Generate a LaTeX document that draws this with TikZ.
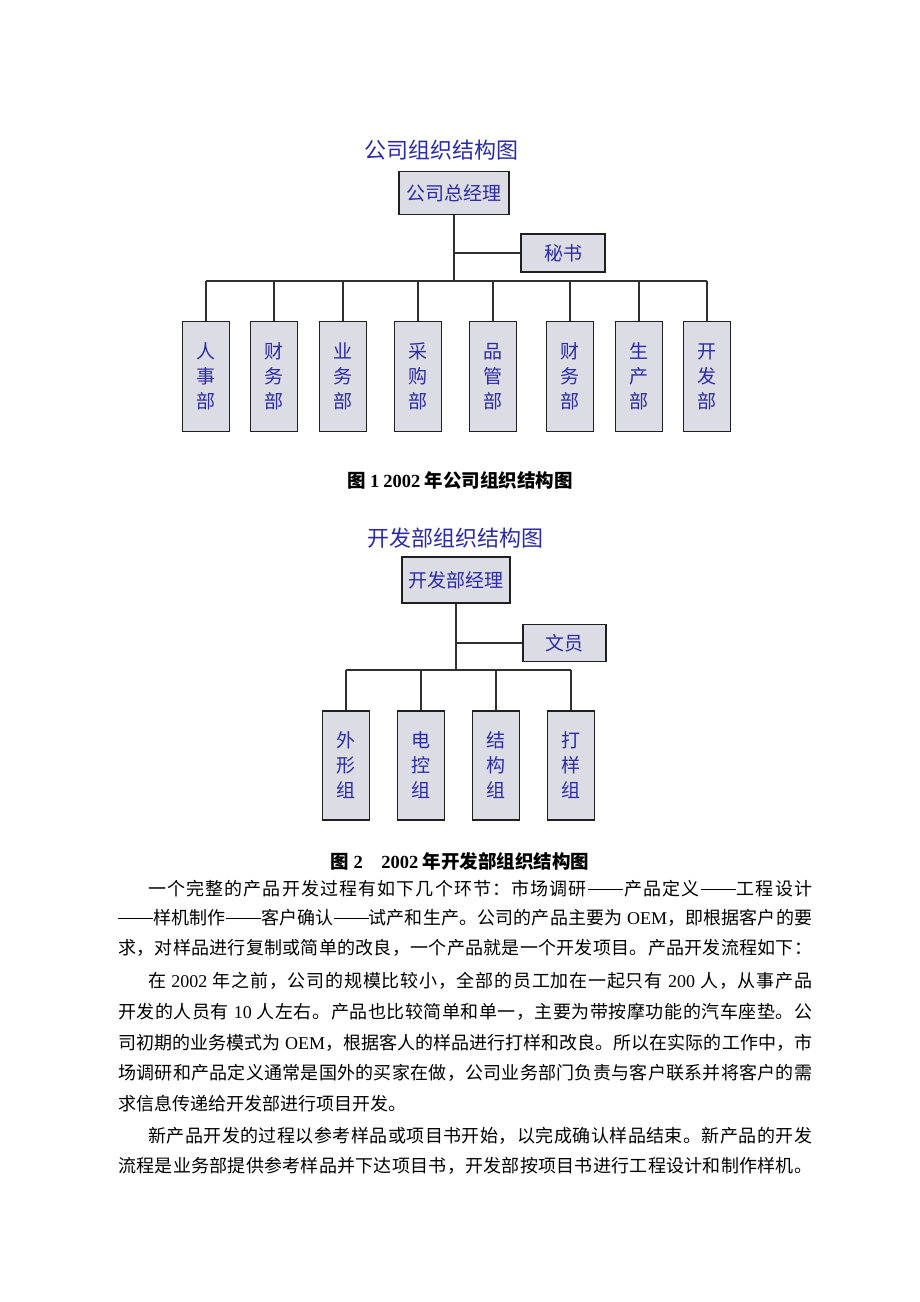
\documentclass[tikz,border=0pt]{standalone}
\usepackage{fontspec}
\newfontfamily\cjk{Noto Sans CJK SC}
\newfontfamily\latf{Liberation Serif}
\definecolor{diagblue}{HTML}{2B2BA8}
\definecolor{boxfill}{HTML}{DCDCE4}
\definecolor{boxline}{HTML}{202020}
\definecolor{connline}{HTML}{303030}
\newcommand\dg[1]{{\latf #1}}
\newcommand\ddash{\rule[5.6pt]{35pt}{0.9pt}}
% spread the characters of a line evenly over a given width
\def\spread#1{\spreadA#1\relax}
\def\spreadA#1{\ifx\relax#1\else#1\expandafter\spreadB\fi}
\def\spreadB#1{\ifx\relax#1\else\hskip0pt plus 1fil\relax#1\expandafter\spreadB\fi}
\newcommand\jline[2]{\hbox to #1{\spread{#2}}}
\tikzset{
  box/.style={draw=boxline, fill=boxfill, line width=1.5pt, text=diagblue, inner sep=0pt,
    font=\cjk\fontsize{19}{25}\selectfont, align=center},
  topbox/.style={box, minimum width=110, minimum height=43},
  sidebox/.style={box, minimum width=84, minimum height=38},
  kidbox/.style={box, minimum width=47, minimum height=110},
  conn/.style={draw=connline, line width=1.5pt},
  ctitle/.style={text=diagblue, font=\cjk\fontsize{22}{24}\selectfont, inner sep=0pt},
  caption/.style={font=\cjk\bfseries\fontsize{18.5}{20}\selectfont, inner sep=0pt},
  bodyl/.style={anchor=west, inner sep=0pt, font=\cjk\fontsize{18}{20}\selectfont}
}
\begin{document}
\begin{tikzpicture}[x=1pt,y=-1pt]
\useasboundingbox[fill=white] (0,0) rectangle (920,1302);

% ---------- Chart 1 ----------
\node[ctitle] (t1) at (441,150) {公司组织结构图};
\node[topbox] (gm) at (454,193) {公司总经理};
\node[sidebox] (sec) at (563,253) {秘书};
\coordinate (bus1) at (454,281);
\node[kidbox] (a1) at (206,376.5) {人\\事\\部};
\node[kidbox] (a2) at (274,376.5) {财\\务\\部};
\node[kidbox] (a3) at (343,376.5) {业\\务\\部};
\node[kidbox] (a4) at (418,376.5) {采\\购\\部};
\node[kidbox] (a5) at (493,376.5) {品\\管\\部};
\node[kidbox] (a6) at (570,376.5) {财\\务\\部};
\node[kidbox] (a7) at (639,376.5) {生\\产\\部};
\node[kidbox] (a8) at (707,376.5) {开\\发\\部};
\draw[conn] (gm.south) -- (gm.south |- bus1);
\draw[conn] (sec.west) -- (sec.west -| gm.south);
\draw[conn] (a1.north |- bus1) -- (a8.north |- bus1);
\foreach \i in {1,...,8}{\draw[conn] (a\i.north) -- (a\i.north |- bus1);}
\node[caption] (cap1) at (460,480) {图 \dg{\bfseries 1} \dg{\bfseries 2002} 年公司组织结构图};

% ---------- Chart 2 ----------
\node[ctitle] (t2) at (455,538) {开发部组织结构图};
\node[topbox, minimum width=108, minimum height=46] (dm) at (456,580) {开发部经理};
\node[sidebox, minimum width=83, minimum height=37] (clerk) at (564.5,643) {文员};
\coordinate (bus2) at (456,670);
\node[kidbox, minimum height=109] (b1) at (346,765.5) {外\\形\\组};
\node[kidbox, minimum height=109] (b2) at (421,765.5) {电\\控\\组};
\node[kidbox, minimum height=109] (b3) at (496,765.5) {结\\构\\组};
\node[kidbox, minimum height=109] (b4) at (571,765.5) {打\\样\\组};
\draw[conn] (dm.south) -- (dm.south |- bus2);
\draw[conn] (clerk.west) -- (clerk.west -| dm.south);
\draw[conn] (b1.north |- bus2) -- (b4.north |- bus2);
\foreach \i in {1,...,4}{\draw[conn] (b\i.north) -- (b\i.north |- bus2);}
\node[caption] (cap2) at (460,861) {图 \dg{\bfseries 2}\quad \dg{\bfseries 2002} 年开发部组织结构图};

% ---------- Body text ----------
\node[bodyl] (l1) at (148,889) {\jline{664pt}{一个完整的产品开发过程有如下几个环节：市场调研\ddash 产品定义\ddash 工程设计}};
\node[bodyl] (l2) at (118,918) {\jline{694pt}{\ddash 样机制作\ddash 客户确认\ddash 试产和生产。公司的产品主要为{\dg{ OEM}}，即根据客户的要}};
\node[bodyl] (l3) at (118,948) {\jline{694pt}{求，对样品进行复制或简单的改良，一个产品就是一个开发项目。产品开发流程如下：}};
\node[bodyl] (l4) at (148,981) {\jline{664pt}{在{\dg{ 2002 }}年之前，公司的规模比较小，全部的员工加在一起只有{\dg{ 200 }}人，从事产品}};
\node[bodyl] (l5) at (118,1012) {\jline{694pt}{开发的人员有{\dg{ 10 }}人左右。产品也比较简单和单一，主要为带按摩功能的汽车座垫。公}};
\node[bodyl] (l6) at (118,1043) {\jline{694pt}{司初期的业务模式为{\dg{ OEM}}，根据客人的样品进行打样和改良。所以在实际的工作中，市}};
\node[bodyl] (l7) at (118,1073) {\jline{694pt}{场调研和产品定义通常是国外的买家在做，公司业务部门负责与客户联系并将客户的需}};
\node[bodyl] (l8) at (118,1104) {求信息传递给开发部进行项目开发。};
\node[bodyl] (l9) at (148,1136) {\jline{664pt}{新产品开发的过程以参考样品或项目书开始，以完成确认样品结束。新产品的开发}};
\node[bodyl] (l10) at (118,1166) {\jline{694pt}{流程是业务部提供参考样品并下达项目书，开发部按项目书进行工程设计和制作样机。}};
\end{tikzpicture}
\end{document}
